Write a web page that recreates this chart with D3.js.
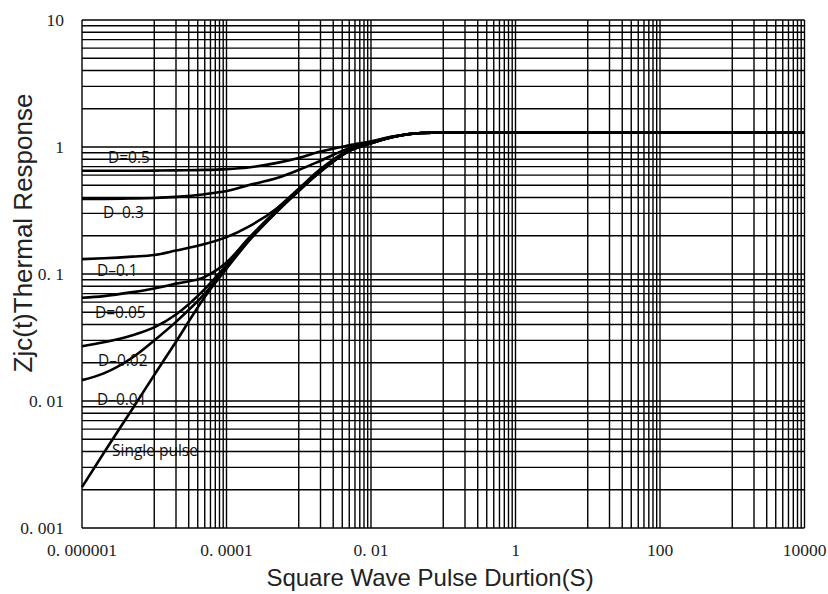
<!DOCTYPE html>
<html>
<head>
<meta charset="utf-8">
<script src="https://cdn.jsdelivr.net/npm/d3@7"></script>
<style>
  body { margin: 0; background: #fff; }
</style>
</head>
<body>
<div id="chart"></div>
<script>
// pulse duration (s) shared by every curve
const pulseTimes = [1e-6, 2e-6, 5e-6, 1e-5, 2e-5, 5e-5, 1e-4, 2e-4, 5e-4, 1e-3, 2e-3, 5e-3, 1e-2, 2e-2, 5e-2, 1e-1, 1e4];

// Zjc(t), one array per duty cycle
const zD05    = [0.65, 0.65, 0.651, 0.652, 0.655, 0.66, 0.67, 0.69, 0.75, 0.82, 0.92, 1.03, 1.11, 1.21, 1.29, 1.3, 1.3];
const zD03    = [0.39, 0.39, 0.393, 0.397, 0.405, 0.425, 0.45, 0.50, 0.57, 0.66, 0.78, 0.98, 1.09, 1.21, 1.29, 1.3, 1.3];
const zD01    = [0.131, 0.133, 0.137, 0.141, 0.153, 0.172, 0.195, 0.235, 0.33, 0.47, 0.67, 0.95, 1.08, 1.2, 1.29, 1.3, 1.3];
const zD005   = [0.065, 0.067, 0.072, 0.077, 0.084, 0.095, 0.123, 0.19, 0.32, 0.46, 0.65, 0.935, 1.072, 1.2, 1.29, 1.3, 1.3];
const zD002   = [0.027, 0.029, 0.033, 0.038, 0.048, 0.076, 0.117, 0.185, 0.315, 0.455, 0.645, 0.933, 1.071, 1.2, 1.29, 1.3, 1.3];
const zD001   = [0.0146, 0.0165, 0.022, 0.030, 0.042, 0.070, 0.113, 0.182, 0.312, 0.452, 0.642, 0.931, 1.07, 1.2, 1.29, 1.3, 1.3];
const zSingle = [0.0021, 0.0039, 0.0087, 0.016, 0.0293, 0.066, 0.11, 0.18, 0.31, 0.45, 0.64, 0.93, 1.07, 1.2, 1.29, 1.3, 1.3];

const seriesLabels = ["D=0.5", "D\u20130.3", "D\u20130.1", "D=0.05", "D\u20130.02", "D\u20130.01", "Single pulse"];
// where each curve label sits, in data units [t, Zjc]
const labelAt = [[2.29e-6, 0.82], [1.95e-6, 0.302], [1.61e-6, 0.106], [1.51e-6, 0.0493], [1.66e-6, 0.021], [1.61e-6, 0.0102], [2.6e-6, 0.00404]];

const xTickValues = [1e-6, 1e-4, 1e-2, 1, 100, 10000];
const xTickLabels = ["0. 000001", "0. 0001", "0. 01", "1", "100", "10000"];
const yTickValues = [0.001, 0.01, 0.1, 1, 10];
const yTickLabels = ["0. 001", "0. 01", "0. 1", "1", "10"];

const W = 828, H = 594;
const margin = { top: 20, right: 23.5, bottom: 66, left: 82 };
const width = W - margin.left - margin.right,
      height = H - margin.top - margin.bottom;

const svg = d3.select("#chart")
  .append("svg")
  .attr("width", W)
  .attr("height", H);

const g = svg.append("g")
  .attr("transform", `translate(${margin.left},${margin.top})`);

const x = d3.scaleLog().domain([1e-6, 1e4]).range([0, width]);
const y = d3.scaleLog().domain([0.001, 10]).range([height, 0]);

// vertical grid: every decade, 2..9 only in the odd decades (as in the original)
const xGrid = x.ticks(20).filter(v => {
  const e = Math.log10(v);
  if (Math.abs(e - Math.round(e)) < 1e-9) return true;
  return Math.abs(Math.floor(e + 1e-9)) % 2 === 1;
});
const yGrid = y.ticks(20);

g.append("g")
  .selectAll("line")
  .data(yGrid)
  .join("line")
  .attr("x1", 0).attr("x2", width)
  .attr("y1", d => y(d)).attr("y2", d => y(d))
  .attr("stroke", "#000")
  .attr("stroke-width", 1.4);

g.append("g")
  .selectAll("line")
  .data(xGrid)
  .join("line")
  .attr("y1", 0).attr("y2", height)
  .attr("x1", d => x(d)).attr("x2", d => x(d))
  .attr("stroke", "#000")
  .attr("stroke-width", 1.4);

// curves
const allSeries = [zD05, zD03, zD01, zD005, zD002, zD001, zSingle];
const line = d3.line()
  .x(d => x(d[0]))
  .y(d => y(d[1]))
  .curve(d3.curveMonotoneX);

g.append("g")
  .selectAll("path")
  .data(allSeries)
  .join("path")
  .attr("d", s => line(s.map((v, i) => [pulseTimes[i], v])))
  .attr("fill", "none")
  .attr("stroke", "#000")
  .attr("stroke-width", 2.6);

// curve labels
g.append("g")
  .selectAll("text")
  .data(seriesLabels)
  .join("text")
  .attr("x", (d, i) => x(labelAt[i][0]))
  .attr("y", (d, i) => y(labelAt[i][1]))
  .attr("dy", "0.35em")
  .style("font-family", "'Open Sans', sans-serif")
  .style("font-size", "15.5px")
  .attr("fill", "#111")
  .text(d => d);

// axis tick labels
const tickFont = "'Liberation Serif', serif";
g.append("g")
  .selectAll("text")
  .data(xTickValues)
  .join("text")
  .attr("x", d => x(d))
  .attr("y", height + 28)
  .attr("text-anchor", "middle")
  .style("font-family", tickFont)
  .style("font-size", "17.5px")
  .attr("fill", "#222")
  .text((d, i) => xTickLabels[i]);

g.append("g")
  .selectAll("text")
  .data(yTickValues)
  .join("text")
  .attr("x", -18)
  .attr("y", d => y(d))
  .attr("dy", "0.35em")
  .attr("text-anchor", "end")
  .style("font-family", tickFont)
  .style("font-size", "17.5px")
  .attr("fill", "#222")
  .text((d, i) => yTickLabels[i]);

// axis titles
svg.append("text")
  .attr("x", 430)
  .attr("y", 586)
  .attr("text-anchor", "middle")
  .style("font-family", "'Liberation Sans', Arial, sans-serif")
  .style("font-size", "24px")
  .attr("fill", "#222")
  .text("Square Wave Pulse Durtion(S)");

svg.append("text")
  .attr("transform", "translate(32,233) rotate(-90)")
  .attr("text-anchor", "middle")
  .style("font-family", "'Liberation Sans', Arial, sans-serif")
  .style("font-size", "26px")
  .attr("fill", "#222")
  .text("Zjc(t)Thermal Response");
</script>
</body>
</html>
